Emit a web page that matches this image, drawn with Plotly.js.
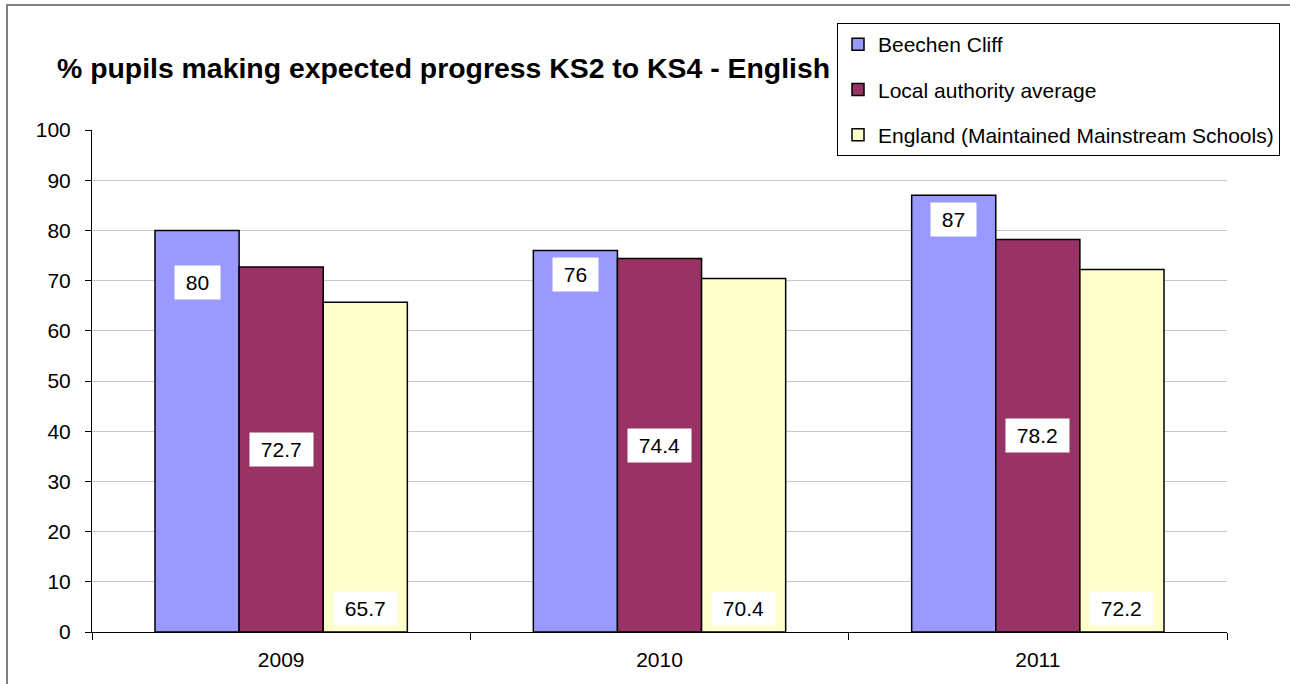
<!DOCTYPE html>
<html>
<head>
<meta charset="utf-8">
<script src="https://cdn.plot.ly/plotly-3.0.1.min.js"></script>
<style>
  html, body { margin: 0; padding: 0; background: #ffffff; }
  #chart { width: 1290px; height: 684px; }
</style>
</head>
<body>
<div id="chart"></div>
<script>
// ---- data ----
const years = ['2009', '2010', '2011'];
const seriesNames = ['Beechen Cliff', 'Local authority average', 'England (Maintained Mainstream Schools)'];
const beechenCliff = [80, 76, 87];
const localAuthority = [72.7, 74.4, 78.2];
const england = [65.7, 70.4, 72.2];
const yTicks = [0, 10, 20, 30, 40, 50, 60, 70, 80, 90, 100];

// ---- styling ----
const FONT = 'Liberation Sans, Arial, sans-serif';
const colors = ['#9999FF', '#993366', '#FFFFCC'];
const margin = { l: 92, r: 63, t: 130, b: 52, autoexpand: false };
const W = 1290, H = 684;
const plotW = W - margin.l - margin.r;
const plotH = H - margin.t - margin.b;
const bargap = 0.333;
const barW = plotW / years.length * (1 - bargap) / 3;

const allSeries = [beechenCliff, localAuthority, england];
const traces = allSeries.map((vals, i) => ({
  type: 'bar',
  name: seriesNames[i],
  x: years,
  y: vals,
  legendgroup: 'g' + i,
  marker: { color: colors[i], line: { color: '#000000', width: 1.5 } },
  hoverinfo: 'x+y+name'
}));

function lbl(v) { return '\u00a0' + v + '\u00a0'; }
const annotations = [];
const blueShift = [-35, -7, -7];
const labelFont = { family: FONT, size: 21, color: '#000000' };
years.forEach((yr, j) => {
  annotations.push({
    x: j, y: beechenCliff[j], xref: 'x', yref: 'y',
    xshift: -barW, yshift: blueShift[j], yanchor: 'top',
    text: lbl(beechenCliff[j]), showarrow: false,
    bgcolor: '#ffffff', borderpad: 5, font: labelFont
  });
  annotations.push({
    x: j, y: localAuthority[j] / 2, xref: 'x', yref: 'y',
    xshift: 0, yanchor: 'middle',
    text: lbl(localAuthority[j]), showarrow: false,
    bgcolor: '#ffffff', borderpad: 5, font: labelFont
  });
  annotations.push({
    x: j, y: 0, xref: 'x', yref: 'y',
    xshift: barW, yshift: 6, yanchor: 'bottom',
    text: lbl(england[j]), showarrow: false,
    bgcolor: '#ffffff', borderpad: 5, font: labelFont
  });
});

const layout = {
  width: W, height: H,
  margin: margin,
  paper_bgcolor: '#ffffff',
  plot_bgcolor: '#ffffff',
  font: { family: FONT, size: 21, color: '#000000' },
  title: {
    text: '% pupils making expected progress KS2 to KS4 - English',
    font: { family: FONT, size: 28.4, color: '#000000', weight: 'bold' },
    xref: 'container', yref: 'container',
    x: 57 / W, xanchor: 'left',
    y: 1 - 68 / H, yanchor: 'middle'
  },
  barmode: 'group',
  bargap: bargap,
  bargroupgap: 0,
  xaxis: {
    type: 'category',
    range: [-0.5, years.length - 0.5],
    autorange: false,
    showline: true, linecolor: '#000000', linewidth: 1,
    ticks: 'outside', tickson: 'boundaries', ticklen: 7, tickcolor: '#000000',
    ticklabelstandoff: 9,
    tickfont: { family: FONT, size: 21, color: '#000000' },
    showgrid: false, zeroline: false,
    fixedrange: true
  },
  yaxis: {
    range: [0, 100],
    autorange: false,
    tickvals: yTicks,
    ticktext: yTicks.map(String),
    showline: true, linecolor: '#000000', linewidth: 1,
    ticks: 'outside', ticklen: 6, tickcolor: '#000000',
    ticklabelstandoff: 10,
    tickfont: { family: FONT, size: 21, color: '#000000' },
    showgrid: true, gridcolor: '#c8c8c8', gridwidth: 1,
    zeroline: false,
    fixedrange: true
  },
  showlegend: true,
  legend: {
    x: (1280 - margin.l) / plotW, xanchor: 'right',
    y: (H - margin.b - 23) / plotH, yanchor: 'top',
    bordercolor: '#000000', borderwidth: 1,
    bgcolor: '#ffffff',
    traceorder: 'grouped',
    tracegroupgap: 15,
    font: { family: FONT, size: 21, color: '#000000' }
  },
  annotations: annotations,
  shapes: [{
    type: 'rect', xref: 'paper', yref: 'paper',
    x0: (7 - margin.l) / plotW, x1: 1.3,
    y0: -0.3, y1: (H - margin.b - 5) / plotH,
    line: { color: '#808080', width: 2 },
    layer: 'below'
  }]
};

Plotly.newPlot('chart', traces, layout, { displayModeBar: false, staticPlot: true });
</script>
</body>
</html>
